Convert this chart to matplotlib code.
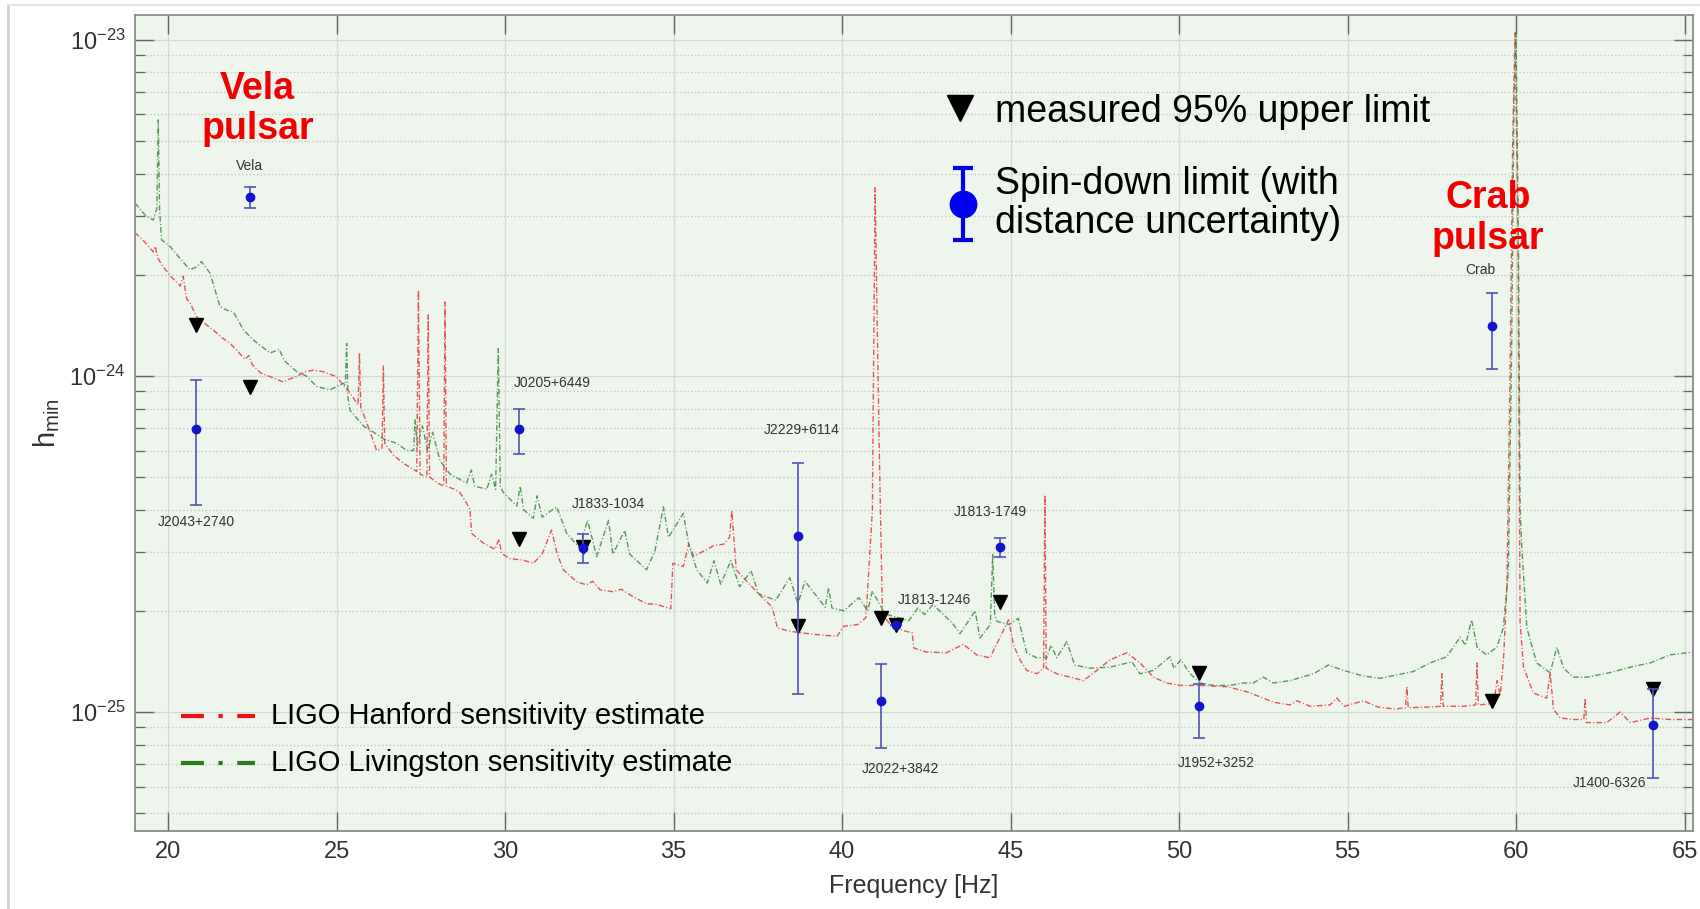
import numpy as np
import matplotlib.pyplot as plt
from matplotlib.lines import Line2D
from matplotlib.ticker import NullFormatter, FixedLocator, LogFormatterSciNotation

plt.rcParams['font.family'] = ['Liberation Sans', 'DejaVu Sans']
plt.rcParams['mathtext.fontset'] = 'custom'
plt.rcParams['mathtext.rm'] = 'Liberation Sans'
plt.rcParams['mathtext.it'] = 'Liberation Sans:italic'
plt.rcParams['mathtext.bf'] = 'Liberation Sans:bold'

# DATA  (strain in units of 1e-25)
hanford = [
    (19.02, 26.7), (19.30, 25.1), (19.56, 23.4), (19.62, 24.3), (19.70, 22.4), (19.86, 21.1),
    (20.10, 19.7), (20.36, 18.5), (20.45, 19.8), (20.55, 17.0), (20.65, 16.5), (20.85, 15.0),
    (21.10, 14.3), (21.34, 13.7), (21.60, 13.0), (21.84, 12.5), (22.05, 11.9), (22.28, 11.2),
    (22.40, 11.5), (22.50, 10.8), (22.75, 10.2), (23.03, 9.95), (23.42, 9.6), (23.62, 9.8),
    (23.82, 9.95), (24.05, 10.3), (24.31, 10.4), (24.60, 10.3), (25.00, 9.95), (25.20, 9.4),
    (25.40, 8.9), (25.64, 8.2), (25.68, 11.7), (25.72, 8.0), (25.80, 7.7), (26.00, 6.8),
    (26.19, 6.0), (26.35, 6.1), (26.39, 10.7), (26.43, 6.3), (26.70, 5.8), (26.98, 5.5),
    (27.38, 5.2), (27.43, 18.0), (27.48, 5.1), (27.68, 5.0), (27.72, 15.2), (27.76, 5.0),
    (28.00, 4.8), (28.18, 4.7), (28.22, 16.6), (28.26, 4.7), (28.50, 4.6), (28.66, 4.5),
    (28.85, 4.2), (28.96, 4.0), (29.01, 3.4), (29.36, 3.18), (29.70, 3.05), (29.82, 3.27),
    (29.90, 2.96), (30.15, 2.86), (30.54, 2.83), (30.84, 2.77), (31.10, 2.95), (31.38, 3.48),
    (31.55, 2.95), (31.73, 2.65), (32.13, 2.44), (32.42, 2.39), (32.60, 2.45), (32.82, 2.31),
    (33.21, 2.28), (33.45, 2.32), (33.81, 2.20), (34.20, 2.10), (34.50, 2.09), (34.92, 2.03),
    (34.98, 2.77), (35.29, 2.71), (35.45, 3.16), (35.60, 2.91), (36.00, 3.05), (36.20, 3.13),
    (36.50, 3.16), (36.66, 3.31), (36.73, 3.98), (36.86, 2.65), (37.22, 2.42), (37.52, 2.25),
    (37.93, 2.05), (38.08, 1.78), (38.43, 1.74), (38.80, 1.72), (39.24, 1.70), (39.85, 1.68),
    (40.05, 1.80), (40.46, 1.82), (40.71, 1.91), (40.90, 3.98), (40.98, 36.3), (41.10, 6.3),
    (41.20, 1.95), (41.47, 1.80), (41.88, 1.74), (42.08, 1.72), (42.13, 1.55), (42.48, 1.51),
    (43.09, 1.50), (43.60, 1.59), (43.99, 1.48), (44.39, 1.45), (44.69, 1.67), (44.94, 1.88),
    (45.09, 1.58), (45.28, 1.43), (45.48, 1.33), (45.78, 1.30), (45.98, 1.35), (46.02, 4.43),
    (46.06, 1.35), (46.37, 1.30), (46.77, 1.27), (47.16, 1.24), (47.56, 1.33), (47.95, 1.43),
    (48.45, 1.50), (48.84, 1.40), (49.24, 1.27), (49.63, 1.22), (50.03, 1.20), (50.62, 1.20),
    (51.41, 1.19), (52.00, 1.15), (52.40, 1.11), (52.80, 1.07), (53.29, 1.05), (53.50, 1.08),
    (53.89, 1.04), (54.48, 1.05), (54.68, 1.10), (54.90, 1.04), (55.47, 1.08), (55.90, 1.035),
    (56.40, 1.02), (56.72, 1.03), (56.76, 1.19), (56.80, 1.03), (57.45, 1.035), (57.76, 1.04),
    (57.80, 1.30), (57.84, 1.04), (58.44, 1.04), (58.80, 1.05), (58.84, 1.40), (58.88, 1.05),
    (59.33, 1.06), (59.44, 1.24), (59.53, 1.12), (59.63, 1.45), (59.73, 2.4), (59.82, 10.0),
    (59.90, 50.0), (59.97, 105.0), (60.05, 31.6), (60.12, 1.85), (60.22, 1.36), (60.51, 1.14),
    (60.91, 1.10), (61.01, 1.31), (61.11, 1.02), (61.31, 0.96), (61.70, 0.95), (62.01, 0.95),
    (62.05, 1.10), (62.09, 0.93), (62.69, 0.93), (63.09, 1.00), (63.39, 0.93), (63.98, 0.96),
    (64.57, 0.95), (65.30, 0.95),
]

livingston = [
    (19.02, 32.7), (19.32, 30.1), (19.56, 29.1), (19.67, 31.6), (19.71, 57.8), (19.75, 31.0),
    (19.81, 25.4), (20.06, 24.3), (20.35, 22.4), (20.65, 20.7), (20.85, 21.1), (20.99, 21.9),
    (21.25, 20.2), (21.54, 16.1), (21.74, 15.7), (21.94, 15.5), (22.24, 13.7), (22.53, 12.8),
    (23.03, 11.7), (23.30, 12.0), (23.45, 11.1), (23.82, 10.3), (24.10, 10.0), (24.41, 9.3),
    (24.81, 9.1), (25.20, 9.5), (25.26, 9.4), (25.30, 12.5), (25.34, 8.6), (25.40, 7.9),
    (25.80, 7.1), (26.10, 6.8), (26.39, 6.5), (26.79, 6.3), (27.08, 6.0), (27.29, 6.0),
    (27.33, 7.4), (27.40, 6.2), (27.55, 7.1), (27.70, 6.0), (27.85, 6.8), (28.07, 5.6),
    (28.37, 5.1), (28.86, 4.8), (29.00, 5.25), (29.10, 4.7), (29.46, 4.6), (29.60, 5.1),
    (29.72, 4.6), (29.80, 12.05), (29.86, 4.7), (29.95, 4.5), (30.35, 4.1), (30.45, 4.7),
    (30.55, 4.0), (30.84, 3.77), (30.95, 4.4), (31.10, 3.8), (31.53, 4.08), (31.83, 3.40),
    (32.20, 3.09), (32.45, 3.72), (32.72, 2.90), (33.07, 3.72), (33.20, 2.95), (33.55, 3.47),
    (33.70, 2.95), (34.20, 2.65), (34.45, 3.02), (34.70, 4.08), (34.85, 3.31), (35.29, 3.9),
    (35.45, 3.16), (35.69, 2.65), (36.00, 2.42), (36.20, 2.82), (36.40, 2.40), (36.70, 2.82),
    (36.96, 2.36), (37.30, 2.63), (37.52, 2.25), (38.03, 2.15), (38.45, 2.51), (38.69, 2.10),
    (38.90, 2.45), (39.50, 2.05), (39.60, 2.34), (39.70, 2.04), (40.05, 2.00), (40.50, 2.19),
    (40.76, 2.00), (40.90, 2.29), (41.27, 1.96), (41.98, 1.87), (42.25, 2.04), (42.45, 1.95),
    (42.70, 2.09), (43.29, 1.83), (43.50, 1.71), (43.95, 2.00), (44.09, 1.66), (44.40, 1.82),
    (44.47, 2.96), (44.53, 1.95), (44.60, 1.86), (44.95, 1.82), (45.23, 1.90), (45.48, 1.50),
    (45.78, 1.45), (46.07, 1.45), (46.20, 1.58), (46.37, 1.45), (46.67, 1.62), (46.90, 1.38),
    (47.36, 1.35), (47.95, 1.36), (48.60, 1.41), (48.84, 1.30), (49.24, 1.33), (49.73, 1.46),
    (49.85, 1.35), (50.05, 1.43), (50.33, 1.30), (50.62, 1.22), (51.02, 1.20), (51.51, 1.20),
    (51.91, 1.22), (52.20, 1.22), (52.50, 1.27), (52.80, 1.22), (53.29, 1.24), (53.99, 1.30),
    (54.43, 1.38), (54.88, 1.33), (55.47, 1.28), (55.97, 1.26), (56.46, 1.29), (56.95, 1.32),
    (57.45, 1.40), (57.94, 1.46), (58.34, 1.67), (58.50, 1.58), (58.68, 1.88), (58.85, 1.55),
    (59.13, 1.48), (59.43, 1.56), (59.62, 1.78), (59.77, 2.60), (59.87, 12.2), (59.94, 67.6),
    (60.00, 105.0), (60.07, 25.0), (60.12, 4.06), (60.17, 3.09), (60.32, 1.78), (60.61, 1.40),
    (61.01, 1.31), (61.21, 1.56), (61.41, 1.35), (61.70, 1.27), (62.10, 1.27), (62.79, 1.31),
    (63.39, 1.36), (63.98, 1.40), (64.57, 1.48), (65.30, 1.51),
]

pulsars = ['J2043+2740', 'Vela', 'J0205+6449', 'J1833-1034', 'J2229+6114', 'J2022+3842',
           'J1813-1246', 'J1813-1749', 'J1952+3252', 'Crab', 'J1400-6326']
pulsar_freq = [20.84, 22.42, 30.41, 32.31, 38.70, 41.15, 41.60, 44.69, 50.59, 59.30, 64.07]
upper_limit = [14.2, 9.3, 3.28, 3.1, 1.80, 1.91, 1.81, 2.12, 1.31, 1.08, 1.17]
spindown = [6.95, 34.0, 6.95, 3.07, 3.33, 1.08, 1.81, 3.09, 1.04, 14.1, 0.914]
spindown_lo = [4.13, 31.6, 5.86, 2.77, 1.13, 0.783, 1.81, 2.89, 0.837, 10.5, 0.635]
spindown_hi = [9.7, 36.4, 8.0, 3.38, 5.52, 1.39, 1.81, 3.30, 1.21, 17.6, 1.17]

# label placement (freq, strain/1e-25)
label_pos = [(20.84, 3.67), (22.42, 42.2), (31.41, 9.5), (33.06, 4.16), (38.79, 6.9), (41.73, 0.675),
             (42.73, 2.15), (44.40, 3.95), (51.11, 0.705), (58.94, 20.6), (62.78, 0.617)]

scale = 1e-25
h_f, h_h = zip(*hanford)
l_f, l_h = zip(*livingston)
h_h = np.array(h_h) * scale
l_h = np.array(l_h) * scale
ul = np.array(upper_limit) * scale
sd = np.array(spindown) * scale
sd_err = np.array([np.array(spindown) - np.array(spindown_lo),
                   np.array(spindown_hi) - np.array(spindown)]) * scale

fig = plt.figure(figsize=(17, 9.09), dpi=100)
ax = fig.add_axes([135 / 1700, 1 - 831 / 909, (1693 - 135) / 1700, (831 - 15) / 909])
ax.set_facecolor('#edf5ec')

ax.plot(h_f, h_h, color='#e03a3a', lw=1.0, alpha=0.85, ls=(0, (4, 1.6, 0.8, 1.6)), zorder=2)
ax.plot(l_f, l_h, color='#3d8a3d', lw=1.0, alpha=0.85, ls=(0, (4, 1.6, 0.8, 1.6)), zorder=2)

ax.plot(pulsar_freq, ul, ls='none', marker='v', ms=10, color='black', zorder=4)
ax.errorbar(pulsar_freq, sd, yerr=sd_err, fmt='o', ms=6, color='#1414cc', ecolor='#5252b8',
            elinewidth=1.2, capsize=4, capthick=1.2, zorder=5)

for name, (x, y) in zip(pulsars, label_pos):
    ax.text(x, y * scale, name, fontsize=10, color='#333333', ha='center', va='center', zorder=6)

# big annotations
ax.text(22.65, 6.22e-24, 'Vela\npulsar', color='#f00000', fontsize=27, fontweight='bold',
        ha='center', va='center', linespacing=1.15, zorder=7)
ax.text(59.17, 2.94e-24, 'Crab\npulsar', color='#f00000', fontsize=27, fontweight='bold',
        ha='center', va='center', linespacing=1.15, zorder=7)

# custom legend (top)
ax.plot([43.50], [6.26e-24], ls='none', marker='v', ms=19, color='black', zorder=7)
ax.text(44.53, 6.08e-24, 'measured 95% upper limit', fontsize=27, ha='left', va='center', zorder=7)
ax.errorbar([43.60], [3.24e-24], yerr=[[3.24e-24 - 2.53e-24], [4.16e-24 - 3.24e-24]], fmt='o',
            ms=19, color='#0000ee', ecolor='#0000ee', elinewidth=3, capsize=7, capthick=3, zorder=7)
ax.text(44.53, 3.26e-24, 'Spin-down limit (with\ndistance uncertainty)', fontsize=27, ha='left',
        va='center', linespacing=1.1, zorder=7)

# custom legend (bottom)
ax.plot([20.39, 22.58], [9.7e-26, 9.7e-26], color='#ee1111', lw=3, ls=(0, (5.5, 3.5, 1, 3.5)), zorder=7)
ax.plot([20.39, 22.58], [7.05e-26, 7.05e-26], color='#2d7a1f', lw=3, ls=(0, (5.5, 3.5, 1, 3.5)), zorder=7)
ax.text(23.06, 9.7e-26, 'LIGO Hanford sensitivity estimate', fontsize=21, ha='left', va='center', zorder=7)
ax.text(23.06, 7.05e-26, 'LIGO Livingston sensitivity estimate', fontsize=21, ha='left', va='center', zorder=7)

ax.set_yscale('log')
ax.set_xlim(19.02, 65.25)
ax.set_ylim(10 ** -25.354, 10 ** -22.926)
ax.xaxis.set_major_locator(FixedLocator(np.arange(20, 66, 5)))
ax.yaxis.set_major_locator(FixedLocator([1e-25, 1e-24, 1e-23]))
ax.yaxis.set_major_formatter(LogFormatterSciNotation())
minor_y = [m * 10.0 ** e for e in (-26, -25, -24) for m in range(2, 10)]
minor_y = [v for v in minor_y if 10 ** -25.354 < v < 10 ** -22.926]
ax.yaxis.set_minor_locator(FixedLocator(minor_y))
ax.yaxis.set_minor_formatter(NullFormatter())

ax.tick_params(which='major', direction='in', length=14, width=1.0, top=True, right=True,
               color='#666666', labelcolor='#333333', labelsize=17, pad=7)
ax.tick_params(which='minor', direction='in', length=7, width=0.9, left=True, right=True,
               color='#666666')
ax.grid(True, which='major', color='#d3d9d3', lw=0.9, ls='-')
ax.grid(True, which='minor', axis='y', color='#c4cac4', lw=1.0, ls=':')
ax.set_axisbelow(True)
for sp in ax.spines.values():
    sp.set_color('#8a8a8a')
    sp.set_linewidth(1.3)

ax.set_xlabel('Frequency [Hz]', fontsize=18, color='#333333', labelpad=8)
ax.set_ylabel(r'$\mathrm{h_{min}}$', fontsize=21, color='#333333', labelpad=5)

# slide frame
fig.add_artist(Line2D([0.0045, 0.0045], [0, 0.9945], transform=fig.transFigure, color='#d2d2d2', lw=2))
fig.add_artist(Line2D([0.0045, 1], [0.9945, 0.9945], transform=fig.transFigure, color='#e4e4e4', lw=1.5))

fig.savefig('out.png', dpi=100, facecolor='white')
